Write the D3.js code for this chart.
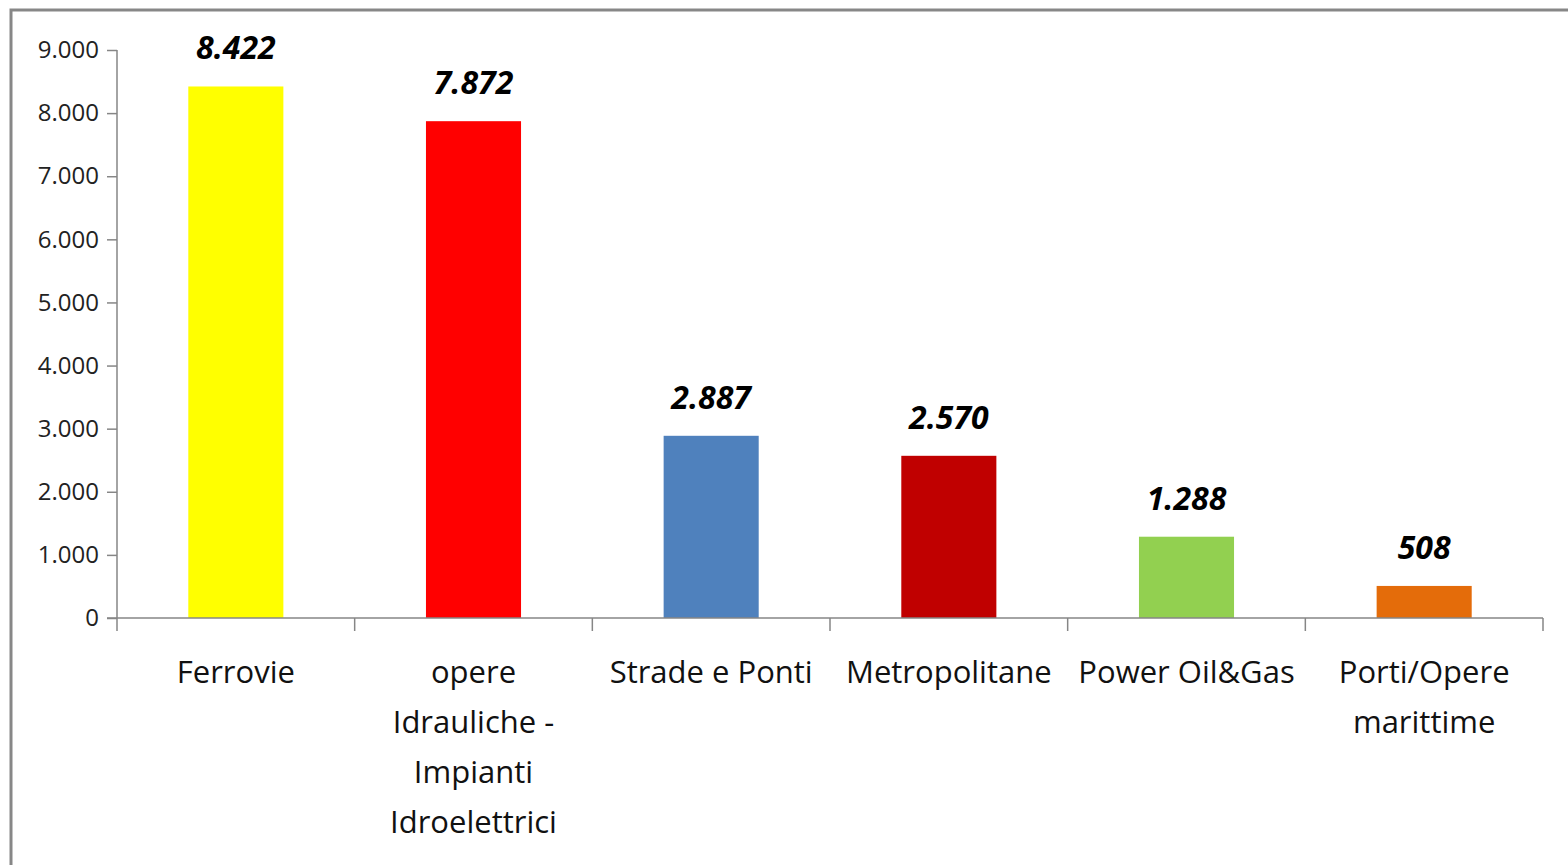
<!DOCTYPE html>
<html><head><meta charset="utf-8">
<script src="https://cdn.jsdelivr.net/npm/d3@7"></script>
<style>
html,body{margin:0;padding:0;background:#fff;}
svg{display:block;}
</style></head>
<body>
<svg id="chart" width="1568" height="865"></svg>
<script>
const categories = [
  ["Ferrovie"],
  ["opere", "Idrauliche -", "Impianti", "Idroelettrici"],
  ["Strade e Ponti"],
  ["Metropolitane"],
  ["Power Oil&Gas"],
  ["Porti/Opere", "marittime"]
];
const values = [8422, 7872, 2887, 2570, 1288, 508];
const valueLabels = ["8.422", "7.872", "2.887", "2.570", "1.288", "508"];
const colors = ["#FFFF00", "#FF0000", "#4F81BD", "#C00000", "#92D050", "#E46C0A"];
const yTicks = [0, 1000, 2000, 3000, 4000, 5000, 6000, 7000, 8000, 9000];
const yTickLabels = ["0", "1.000", "2.000", "3.000", "4.000", "5.000", "6.000", "7.000", "8.000", "9.000"];

(function () {
const svg = d3.select("#chart");
const font = "'Liberation Sans Narrow','Open Sans',sans-serif";

// outer border
svg.append("rect").attr("x", 11).attr("y", 10).attr("width", 1600).attr("height", 900)
  .attr("fill", "none").attr("stroke", "#878787").attr("stroke-width", 3);

const pl = 117, pr = 1543, pt = 50, pb = 618;
const idx = categories.map((d, i) => i);
const x = d3.scaleBand().domain(idx).range([pl, pr]).paddingInner(0.6).paddingOuter(0.3);
const xb = d3.scaleBand().domain(idx).range([pl, pr]);
const y = d3.scaleLinear().domain([0, 9000]).range([pb, pt]);

// y axis
const yAxis = d3.axisLeft(y).tickValues(yTicks).tickFormat((d, i) => yTickLabels[i]).tickSize(10).tickPadding(8);
const gy = svg.append("g").attr("transform", `translate(${pl},0)`).call(yAxis);
gy.select(".domain").attr("stroke", "#868686").attr("stroke-width", 1.5).attr("d", `M0,${pt}V${pb}`);
gy.selectAll(".tick line").attr("stroke", "#868686").attr("stroke-width", 1.5);
gy.selectAll(".tick text").attr("font-family", font).attr("font-size", 24).attr("fill", "#222");

// bars
svg.append("g").selectAll("rect").data(values).join("rect")
  .attr("x", (d, i) => x(i)).attr("width", x.bandwidth())
  .attr("y", d => y(d)).attr("height", d => y(0) - y(d))
  .attr("fill", (d, i) => colors[i]);

// x axis line and ticks
svg.append("line").attr("x1", pl - 10).attr("x2", pr).attr("y1", pb).attr("y2", pb)
  .attr("stroke", "#868686").attr("stroke-width", 1.5);
const xt = idx.map(i => xb(i)).concat([pr]);
svg.append("g").selectAll("line").data(xt).join("line")
  .attr("x1", d => d).attr("x2", d => d).attr("y1", pb).attr("y2", pb + 13)
  .attr("stroke", "#868686").attr("stroke-width", 1.5);

// value labels
svg.append("g").selectAll("text").data(values).join("text")
  .attr("x", (d, i) => x(i) + x.bandwidth() / 2).attr("y", d => y(d) - 27)
  .attr("text-anchor", "middle").attr("font-family", font).attr("font-size", 32)
  .attr("font-weight", "bold").attr("font-style", "italic").attr("fill", "#000")
  .text((d, i) => valueLabels[i]);

// category labels
const cg = svg.append("g").selectAll("text").data(categories).join("text")
  .attr("x", (d, i) => xb(i) + xb.bandwidth() / 2).attr("y", 683)
  .attr("text-anchor", "middle").attr("font-family", font).attr("font-size", 31).attr("fill", "#111");
cg.selectAll("tspan").data(d => d).join("tspan")
  .attr("x", function () { return d3.select(this.parentNode).attr("x"); })
  .attr("dy", (d, j) => j === 0 ? 0 : 50).text(d => d);
})();
</script>
</body></html>
